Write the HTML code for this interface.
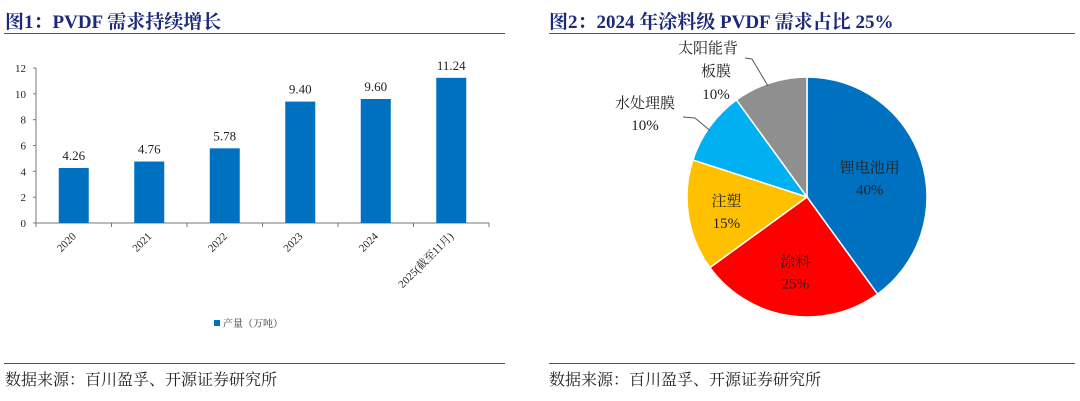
<!DOCTYPE html>
<html><head><meta charset="utf-8"><style>
body{margin:0;width:1080px;height:401px;background:#fff;overflow:hidden;font-family:"Liberation Serif","Noto Serif CJK SC",serif}
.t{position:absolute;font-weight:bold;color:#1a2a78;font-size:19px;top:7px}
.ln{position:absolute;height:1px;background:#555}
.src{position:absolute;top:367px;font-size:16px;color:#222}
</style></head><body>
<div class="t" style="left:5px">图1：PVDF 需求持续增长</div>
<div class="ln" style="left:4px;width:501px;top:33px"></div>
<div class="t" style="left:549px">图2：2024 年涂料级 PVDF 需求占比 25%</div>
<div class="ln" style="left:549px;width:526px;top:33px"></div>
<div class="ln" style="left:4px;width:501px;top:363px"></div>
<div class="ln" style="left:549px;width:526px;top:363px"></div>
<div class="src" style="left:5px">数据来源：百川盈孚、开源证券研究所</div>
<div class="src" style="left:549px">数据来源：百川盈孚、开源证券研究所</div>
<svg id="bar" width="540" height="360" style="position:absolute;left:0;top:0"></svg>
<svg id="pie" width="540" height="360" style="position:absolute;left:540px;top:0"></svg>
<script>
const categories=["2020","2021","2022","2023","2024","2025(截至11月)"];
const values=[4.26,4.76,5.78,9.40,9.60,11.24];
const valueLabels=["4.26","4.76","5.78","9.40","9.60","11.24"];
const yTicks=[0,2,4,6,8,10,12];
const pieLabels=["锂电池用","涂料","注塑","水处理膜","太阳能背板膜"];
const pieValues=[40,25,15,10,10];
const pieColors=["#0070C0","#FF0000","#FFC000","#00B0F0","#8F8F8F"];
const NS="http://www.w3.org/2000/svg";
function mk(p,t,a,txt){const e=document.createElementNS(NS,t);for(const k in a)e.setAttribute(k,a[k]);if(txt!=null)e.textContent=txt;p.appendChild(e);return e;}
const bar=document.getElementById('bar');
const x0=36,x1=489,y0=223,yTop=68;
const ys=v=>y0-(v-0)/12*(y0-yTop);
const bw=(x1-x0)/categories.length;
const xc=i=>x0+bw*(i+0.5);
let e=mk(bar,'line',{x1:x0,y1:yTop,x2:x0,y2:y0,stroke:'#777'});

e=mk(bar,'line',{x1:x0,y1:y0,x2:x1,y2:y0,stroke:'#777'});

yTicks.forEach(t=>{
  mk(bar,'line',{x1:x0-3,y1:ys(t),x2:x0,y2:ys(t),stroke:'#777'});
  e=mk(bar,'text',{x:26,y:ys(t)+4,'text-anchor':'end','font-size':11,fill:'#222'},t);
  
});
for(let i=0;i<=categories.length;i++)mk(bar,'line',{x1:x0+bw*i,y1:y0,x2:x0+bw*i,y2:y0+4,stroke:'#777'});
categories.forEach((c,i)=>{
  e=mk(bar,'rect',{x:xc(i)-15,y:ys(values[i]),width:30,height:y0-ys(values[i]),fill:'#0070C0'});
  
  e=mk(bar,'text',{x:xc(i),y:ys(values[i])-8,'text-anchor':'middle','font-size':13,fill:'#222'},valueLabels[i]);
  
  e=mk(bar,'text',{x:xc(i)+3,y:y0+14,'text-anchor':'end','font-size':11,fill:'#222',transform:`rotate(-45 ${xc(i)+3} ${y0+14})`},c);
  
});
e=mk(bar,'rect',{x:214,y:320,width:6,height:6,fill:'#0070C0'});

e=mk(bar,'text',{x:223,y:327,'font-size':10,fill:'#333'},'产量（万吨）');


const pie=document.getElementById('pie');
const cx=807-540,cy=197,r=120;
const tot=pieValues.reduce((a,b)=>a+b,0);
let a=0;
const pt=(ang,rr)=>[cx+rr*Math.sin(ang),cy-rr*Math.cos(ang)];
const labelPos=[[0.55,0],[0.62,0],[0.68,0],null,null];
pieValues.forEach((v,i)=>{
  const a1=a+v/tot*2*Math.PI;
  const [sx,sy]=pt(a,r),[ex,ey]=pt(a1,r);
  e=mk(pie,'path',{d:`M${cx},${cy}L${sx},${sy}A${r},${r} 0 ${a1-a>Math.PI?1:0} 1 ${ex},${ey}Z`,fill:pieColors[i],stroke:'#fff','stroke-width':1.5});
  
  const mid=(a+a1)/2;
  let lx,ly;
  if(labelPos[i]){[lx,ly]=pt(mid,r*labelPos[i][0]);}
  else if(i===3){lx=645-540;ly=112;mk(pie,'polyline',{points:`${683-540},117 ${695-540},118 ${pt(mid,r)[0]},${pt(mid,r)[1]+4}`,fill:'none',stroke:'#555'});}
  else{lx=708-540;ly=57;mk(pie,'polyline',{points:`${745-540},58 ${752-540},59 ${pt(mid,r)[0]-2},${pt(mid,r)[1]+3}`,fill:'none',stroke:'#555'});}
  if(i===4){
    e=mk(pie,'text',{x:lx,y:ly-4,'text-anchor':'middle','font-size':15,fill:'#222'});
    
    mk(e,'tspan',{x:lx,dy:0},'太阳能背');mk(e,'tspan',{x:lx+8,dy:23},'板膜');mk(e,'tspan',{x:lx+8,dy:23},v+'%');
  }else{
    e=mk(pie,'text',{x:lx,y:ly-4,'text-anchor':'middle','font-size':15,fill:'#222'});
    
    mk(e,'tspan',{x:lx,dy:0},pieLabels[i]);mk(e,'tspan',{x:lx,dy:22},v+'%');
  }
  a=a1;
});
</script>
</body></html>
